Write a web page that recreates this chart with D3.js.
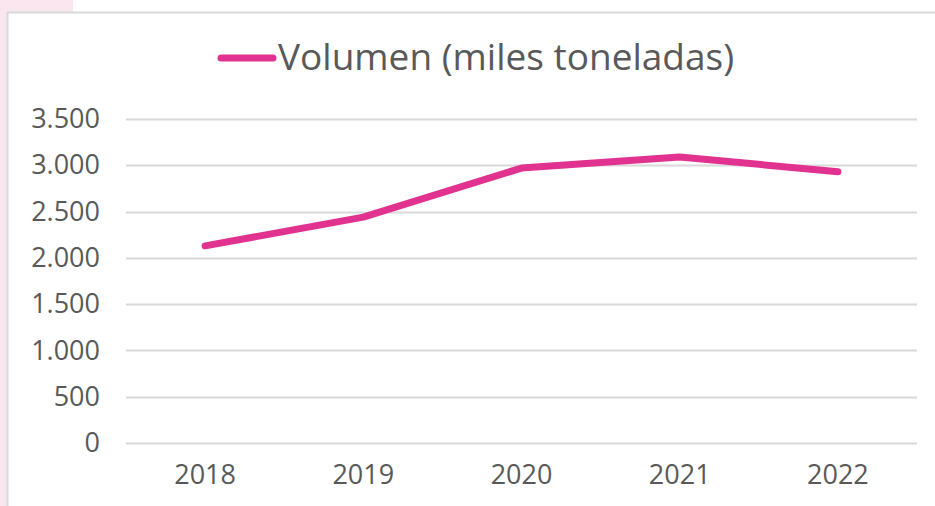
<!DOCTYPE html>
<html>
<head>
<meta charset="utf-8">
<script src="https://cdn.jsdelivr.net/npm/d3@7"></script>
<style>
  html, body { margin: 0; padding: 0; background: #fff; }
  svg { display: block; font-family: "Open Sans", "Noto Sans", sans-serif; }
</style>
</head>
<body>
<svg id="chart"></svg>
<script>
const years = ['2018', '2019', '2020', '2021', '2022'];
const volumen = [2130, 2440, 2970, 3090, 2930];
const yTicks = [0, 500, 1000, 1500, 2000, 2500, 3000, 3500];
const seriesName = 'Volumen (miles toneladas)';

const width = 935;
const height = 506;
const margin = { top: 119, right: 18, bottom: 63, left: 126 };
const pink = '#e2328f';
const textColor = '#595959';

const svg = d3.select('#chart').attr('width', width).attr('height', height);

// pink page background peeking out behind the chart frame
svg.append('rect').attr('x', 0).attr('y', 0).attr('width', 7).attr('height', height).attr('fill', '#fbe6ef');
svg.append('rect').attr('x', 0).attr('y', 0).attr('width', 73).attr('height', 12).attr('fill', '#fbe6ef');
svg.append('path')
  .attr('d', `M7.5,${height} V12.5 H${width}`)
  .attr('fill', 'none')
  .attr('stroke', '#d9d9d9')
  .attr('stroke-width', 2);

const xScale = d3.scaleBand()
  .domain(years)
  .range([margin.left, width - margin.right]);

const yScale = d3.scaleLinear()
  .domain([0, 3500])
  .range([height - margin.bottom, margin.top]);

// gridlines
svg.append('g')
  .selectAll('line')
  .data(yTicks)
  .join('line')
  .attr('x1', margin.left)
  .attr('x2', width - margin.right)
  .attr('y1', d => Math.round(yScale(d)) + 0.5)
  .attr('y2', d => Math.round(yScale(d)) + 0.5)
  .attr('stroke', '#d9d9d9')
  .attr('stroke-width', 2);

const fmt = d => d3.format(',')(d).replace(/,/g, '.');

const styleAxis = g => {
  g.attr('font-family', null).attr('font-size', null);
  g.select('.domain').remove();
  g.selectAll('text').attr('fill', textColor).attr('font-size', 27);
};

const axisy = d3.axisLeft(yScale).tickValues(yTicks).tickFormat(fmt).tickSize(0).tickPadding(26);
svg.append('g')
  .attr('transform', `translate(${margin.left},0)`)
  .call(axisy)
  .call(styleAxis);

const axisx = d3.axisBottom(xScale).tickSize(0).tickPadding(22);
svg.append('g')
  .attr('transform', `translate(0,${height - margin.bottom})`)
  .call(axisx)
  .call(styleAxis);

const line = d3.line()
  .x((d, i) => xScale(years[i]) + xScale.bandwidth() / 2)
  .y(d => yScale(d));

svg.append('path')
  .datum(volumen)
  .attr('fill', 'none')
  .attr('stroke', pink)
  .attr('stroke-width', 7)
  .attr('stroke-linejoin', 'round')
  .attr('stroke-linecap', 'round')
  .attr('d', line);

// legend
const legend = svg.append('g').attr('transform', 'translate(218,58)');
legend.append('line')
  .attr('x1', 3).attr('x2', 55)
  .attr('stroke', pink).attr('stroke-width', 7).attr('stroke-linecap', 'round');
legend.append('text')
  .attr('x', 60)
  .attr('y', 12)
  .attr('fill', textColor)
  .attr('font-size', 37)
  .text(seriesName);
</script>
</body>
</html>
